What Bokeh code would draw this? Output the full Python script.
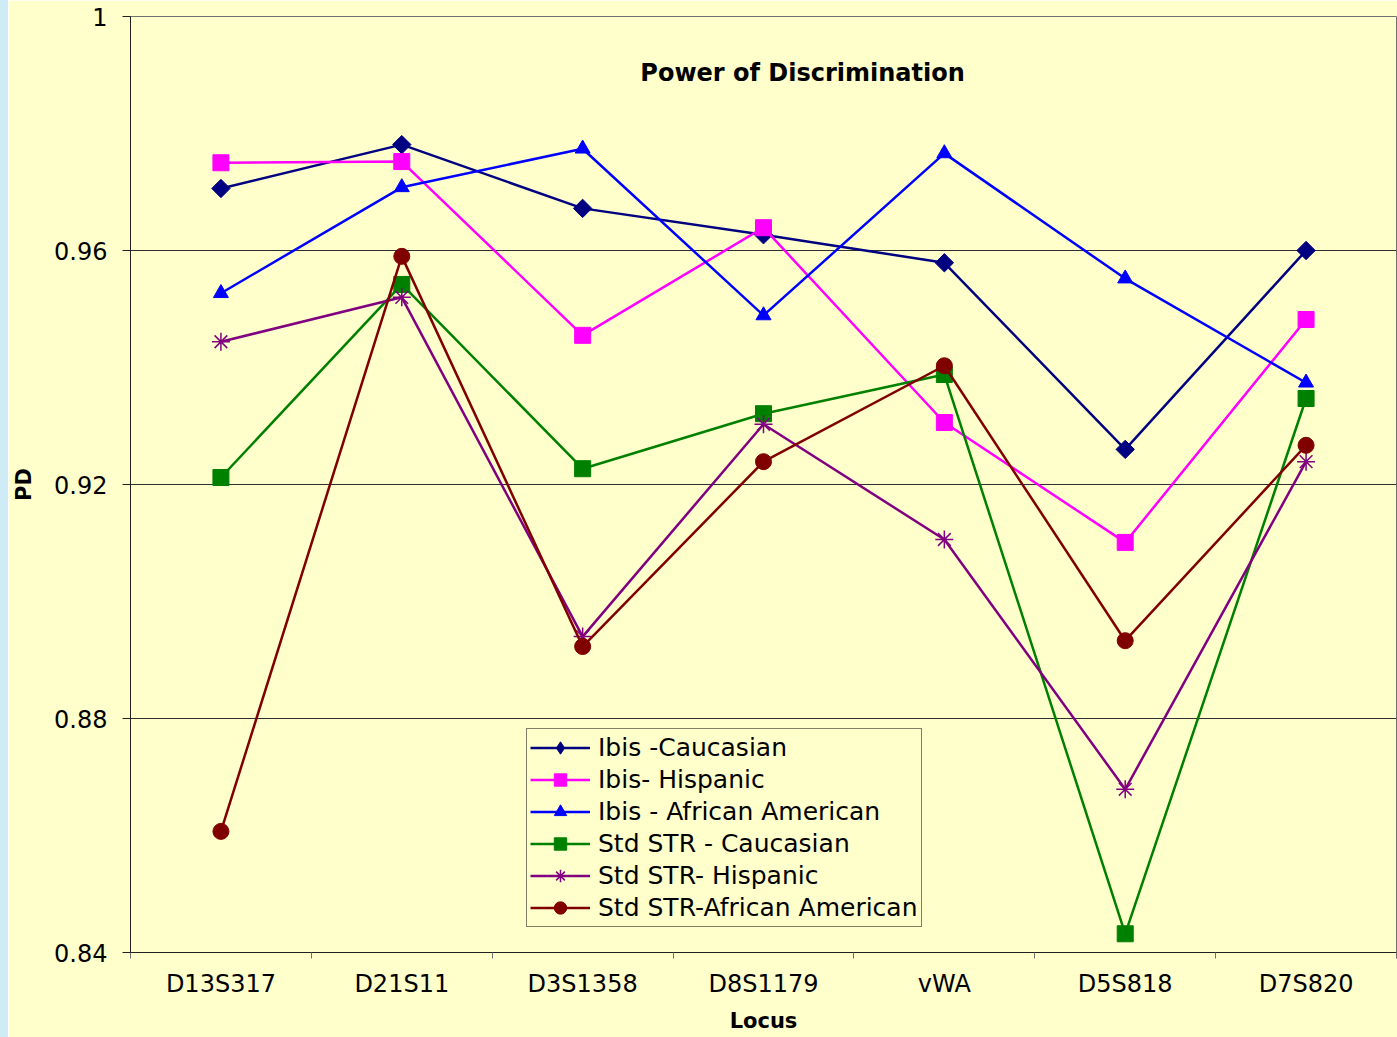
import math
from bokeh.plotting import figure
from bokeh.layouts import row
from bokeh.models import (FixedTicker, CustomJSTickFormatter, Label, Range1d, Div,
                          Legend, LegendItem)
from bokeh.embed import file_html
from bokeh.resources import INLINE

# ---- data ----
loci = ["D13S317", "D21S11", "D3S1358", "D8S1179", "vWA", "D5S818", "D7S820"]
ibis_caucasian = [0.9706, 0.9781, 0.9672, 0.9627, 0.9579, 0.9260, 0.9600]
ibis_hispanic = [0.9750, 0.9752, 0.9455, 0.9639, 0.9306, 0.9101, 0.9482]
ibis_african_american = [0.9527, 0.9708, 0.9774, 0.9489, 0.9766, 0.9552, 0.9374]
std_caucasian = [0.9212, 0.9542, 0.9227, 0.9321, 0.9388, 0.8432, 0.9347]
std_hispanic = [0.9444, 0.9520, 0.8940, 0.9303, 0.9106, 0.8679, 0.9239]
std_african_american = [0.8607, 0.9590, 0.8923, 0.9239, 0.9403, 0.8933, 0.9267]
series_names = ["Ibis -Caucasian", "Ibis- Hispanic", "Ibis - African American",
                "Std STR - Caucasian", "Std STR- Hispanic", "Std STR-African American"]
y_ticks = [0.84, 0.88, 0.92, 0.96, 1.0]

series_values = [ibis_caucasian, ibis_hispanic, ibis_african_american,
                 std_caucasian, std_hispanic, std_african_american]
colors = ["#000080", "#FF00FF", "#0000FF", "#008000", "#800080", "#800000"]
markers = ["square", "square", "triangle", "square", "asterisk", "circle"]
angles = [math.pi / 4, 0, 0, 0, 0, 0]
sizes = [13, 16, 15, 16, 18, 16]

BG = "#FFFFCC"
FONT = "DejaVu Sans"

p = figure(width=1389, height=1037, output_backend="svg", toolbar_location=None,
           x_range=Range1d(0, len(loci)), y_range=Range1d(y_ticks[0], y_ticks[-1]),
           min_border_left=122, min_border_right=1, min_border_top=16, min_border_bottom=85,
           background_fill_color=BG, border_fill_color=BG,
           outline_line_color="#707070", outline_line_width=1)

xs = [i + 0.5 for i in range(len(loci))]
items = []
for name, vals, color, marker, size, ang in zip(series_names, series_values, colors,
                                                markers, sizes, angles):
    lr = p.line(xs, vals, line_color=color, line_width=2.5)
    sr = p.scatter(xs, vals, marker=marker, size=size, angle=ang, fill_color=color,
                   line_color=color, line_width=1.5 if marker == "asterisk" else 1)
    if ang != 0:
        # legend-only diamond symbol (rotation is not shown in legends)
        sr = p.scatter([float("nan")], [float("nan")], marker="diamond", size=19,
                       fill_color=color, line_color=color)
    items.append(LegendItem(label=name, renderers=[lr, sr]))

# y axis
yt = FixedTicker(ticks=y_ticks)
p.yaxis.ticker = yt
p.yaxis.formatter = CustomJSTickFormatter(code="return tick > 0.999 ? '1' : tick.toFixed(2);")
p.yaxis.major_tick_out = 8
p.yaxis.major_tick_in = 0
p.yaxis.minor_tick_out = 0
p.yaxis.minor_tick_in = 0
p.yaxis.major_label_standoff = 15
p.yaxis.axis_label = "PD"
p.yaxis.axis_label_standoff = 15
p.ygrid.ticker = yt
p.ygrid.grid_line_color = "#303030"
p.ygrid.grid_line_width = 1
p.xgrid.visible = False

# x axis
p.xaxis.ticker = FixedTicker(ticks=xs, minor_ticks=list(range(len(loci) + 1)))
p.xaxis.formatter = CustomJSTickFormatter(args=dict(names=loci),
                                          code="return names[Math.floor(tick)];")
p.xaxis.major_tick_out = 0
p.xaxis.major_tick_in = 0
p.xaxis.minor_tick_out = 6
p.xaxis.minor_tick_in = 0
p.xaxis.minor_tick_line_color = "#707070"
p.xaxis.major_label_standoff = 11
p.xaxis.axis_label = "Locus"
p.xaxis.axis_label_standoff = 8

for ax in (p.xaxis[0], p.yaxis[0]):
    ax.axis_line_color = "#202020"
    ax.axis_line_width = 1
    ax.major_tick_line_color = "#202020"
    ax.major_label_text_font = FONT
    ax.major_label_text_font_size = "24px"
    ax.major_label_text_color = "#000000"
    ax.axis_label_text_font = FONT
    ax.axis_label_text_font_style = "bold"
    ax.axis_label_text_font_size = "21px"
    ax.axis_label_text_color = "#000000"

# title inside the plot
p.add_layout(Label(x=3.716, y=0.9903, text="Power of Discrimination",
                   text_align="center", text_baseline="middle",
                   text_font=FONT, text_font_style="bold", text_font_size="24px",
                   text_color="#000000"))

# legend
lg = Legend(items=items, location=(396, 25))
lg.border_line_color = "#000000"
lg.border_line_width = 1
lg.background_fill_color = BG
lg.background_fill_alpha = 1.0
lg.label_text_font = FONT
lg.label_text_font_size = "25px"
lg.label_text_color = "#000000"
lg.glyph_width = 60
lg.glyph_height = 31
lg.label_height = 31
lg.label_standoff = 8
lg.spacing = 1
lg.padding = 3
lg.margin = 0
p.add_layout(lg, "center")

strip = Div(width=8, height=1037, margin=0, styles={"background-color": "#CFEBF6"})
layout = row(strip, p, spacing=0)

open("out.html", "w").write(file_html(layout, INLINE))
